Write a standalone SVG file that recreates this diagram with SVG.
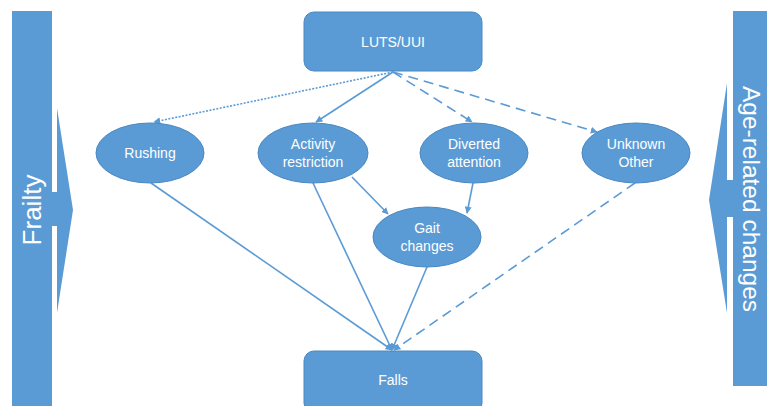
<svg xmlns="http://www.w3.org/2000/svg" width="767" height="406" viewBox="0 0 767 406">
<defs>
<style>
.shape{fill:#5B9BD5;stroke:#4A88C2;stroke-width:1}
.bar{fill:#5B9BD5}
.lbl{font-family:"Liberation Sans",Arial,sans-serif;font-size:14px;fill:#FFFFFF;text-anchor:middle}
.big{font-family:"Liberation Sans",Arial,sans-serif;font-size:26px;fill:#FFFFFF;text-anchor:middle}
.big2{font-family:"Liberation Sans",Arial,sans-serif;font-size:24.5px;fill:#FFFFFF;text-anchor:middle}
.edge{stroke:#5B9BD5;stroke-width:1.6;fill:none;marker-end:url(#ah)}
.dot{stroke-dasharray:2 1.5}
.dash{stroke-dasharray:10 6}
</style>
<marker id="ah" viewBox="0 0 10 10" refX="9" refY="5" markerWidth="7" markerHeight="7" markerUnits="userSpaceOnUse" orient="auto">
<path d="M0,0 L10,5 L0,10 z" fill="#5B9BD5"/>
</marker>
</defs>
<rect width="767" height="406" fill="#FFFFFF"/>

<g id="frailty">
<polygon class="bar" points="52,192 57,192 57,108 73,210 57,313 57,226 52,226"/>
<rect class="bar" x="12" y="11" width="40" height="400"/>
<text class="big" transform="translate(41,210) rotate(-90)">Frailty</text>
</g>

<g id="age-related">
<polygon class="bar" points="733,180 727,180 727,83 709,200 727,313 727,217 733,217"/>
<rect class="bar" x="733" y="11" width="40" height="375"/>
<text class="big2" transform="translate(743,199) rotate(90)">Age-related changes</text>
</g>

<g id="connectors">
<line class="edge dot" x1="393" y1="72" x2="154" y2="122"/>
<line class="edge" x1="393" y1="72" x2="316" y2="122"/>
<line class="edge dash" x1="393" y1="72" x2="472" y2="122"/>
<line class="edge dash" x1="393" y1="72" x2="597" y2="132"/>
<line class="edge" x1="151" y1="183" x2="392" y2="350"/>
<line class="edge" x1="313" y1="183" x2="392" y2="350"/>
<line class="edge" x1="352" y1="177" x2="388" y2="214"/>
<line class="edge" x1="473" y1="183" x2="467" y2="213"/>
<line class="edge" x1="427" y1="267" x2="392" y2="350"/>
<line class="edge dash" x1="635" y1="183" x2="394" y2="350"/>
</g>

<g id="luts">
<rect class="shape" x="304" y="12" width="178" height="59" rx="10"/>
<text class="lbl" x="393" y="47">LUTS/UUI</text>
</g>

<g id="rushing">
<ellipse class="shape" cx="150" cy="153" rx="54" ry="30"/>
<text class="lbl" x="150" y="158">Rushing</text>
</g>

<g id="activity">
<ellipse class="shape" cx="313" cy="153" rx="55" ry="30"/>
<text class="lbl" x="313" y="149">Activity</text>
<text class="lbl" x="313" y="167">restriction</text>
</g>

<g id="diverted">
<ellipse class="shape" cx="474" cy="153" rx="54" ry="30"/>
<text class="lbl" x="474" y="149">Diverted</text>
<text class="lbl" x="474" y="167">attention</text>
</g>

<g id="unknown">
<ellipse class="shape" cx="636" cy="153" rx="54" ry="30"/>
<text class="lbl" x="636" y="149">Unknown</text>
<text class="lbl" x="636" y="167">Other</text>
</g>

<g id="gait">
<ellipse class="shape" cx="427" cy="237" rx="54" ry="30"/>
<text class="lbl" x="427" y="233">Gait</text>
<text class="lbl" x="427" y="251">changes</text>
</g>

<g id="falls">
<rect class="shape" x="304" y="351" width="178" height="62" rx="10"/>
<text class="lbl" x="393" y="385">Falls</text>
</g>
</svg>
